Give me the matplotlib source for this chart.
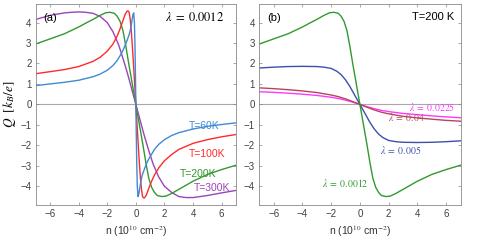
import numpy as np
import matplotlib
matplotlib.use('Agg')
import matplotlib.pyplot as plt

plt.rcParams['font.family'] = ['Liberation Sans', 'DejaVu Sans']
plt.rcParams['mathtext.fontset'] = 'stix'

# panel (a): lambda = 0.0012, different temperatures
n_60 = [-7, -6, -5, -4, -3, -2.5, -2, -1.6, -1.3, -1.0, -0.8, -0.6, -0.45, -0.35, -0.27, -0.2,
        -0.15, -0.1, -0.06, -0.03, 0, 0.03, 0.06, 0.1, 0.15, 0.2, 0.27, 0.35, 0.45, 0.6, 0.8,
        1.0, 1.3, 1.6, 2, 2.5, 3, 4, 5, 6, 7]
q_60 = [0.92, 1.0, 1.08, 1.18, 1.35, 1.48, 1.67, 1.9, 2.15, 2.5, 2.8, 3.15, 3.45, 3.75, 4.1, 4.4,
        4.47, 4.0, 2.8, 1.5, 0, -1.5, -2.8, -4.0, -4.5, -4.4, -4.1, -3.75, -3.45, -3.15, -2.8,
        -2.55, -2.2, -1.95, -1.72, -1.52, -1.38, -1.2, -1.07, -0.98, -0.9]

n_100 = [-7, -6, -5, -4, -3, -2.5, -2, -1.6, -1.3, -1.1, -0.9, -0.75, -0.62, -0.55, -0.47, -0.4,
         -0.32, -0.24, -0.16, -0.08, 0, 0.08, 0.16, 0.24, 0.32, 0.4, 0.47, 0.55, 0.62, 0.75, 0.9,
         1.1, 1.3, 1.6, 2, 2.5, 3, 4, 5, 6, 7]
q_100 = [1.5, 1.6, 1.7, 1.85, 2.1, 2.3, 2.6, 2.95, 3.35, 3.7, 4.1, 4.4, 4.55, 4.57, 4.5, 4.2,
         3.6, 2.8, 1.9, 0.95, 0, -0.95, -1.9, -2.8, -3.6, -4.2, -4.5, -4.57, -4.55, -4.4, -4.1,
         -3.75, -3.45, -3.1, -2.75, -2.45, -2.2, -1.9, -1.72, -1.58, -1.47]

n_200 = [-7, -6, -5, -4, -3.5, -3, -2.5, -2.1, -1.8, -1.5, -1.3, -1.1, -0.9, -0.7, -0.5, -0.3,
         -0.15, 0, 0.15, 0.3, 0.5, 0.7, 0.9, 1.1, 1.3, 1.5, 1.8, 2.1, 2.5, 3, 3.5, 4, 5, 6, 7]
q_200 = [2.95, 3.2, 3.45, 3.78, 3.97, 4.15, 4.35, 4.48, 4.5, 4.45, 4.3, 4.05, 3.6, 2.85, 2.0, 1.2,
         0.6, 0, -0.6, -1.2, -2.0, -2.85, -3.6, -4.05, -4.3, -4.45, -4.5, -4.48, -4.35, -4.15,
         -3.95, -3.75, -3.42, -3.18, -2.97]

n_300 = [-7, -6, -5, -4.5, -4, -3.5, -3, -2.5, -2, -1.6, -1.2, -0.9, -0.6, -0.3, 0, 0.3, 0.6,
         0.9, 1.2, 1.6, 2, 2.5, 3, 3.5, 4, 4.5, 5, 6, 7]
q_300 = [4.15, 4.35, 4.47, 4.5, 4.52, 4.5, 4.45, 4.3, 4.0, 3.55, 2.9, 2.25, 1.55, 0.78, 0, -0.78,
         -1.55, -2.25, -2.9, -3.55, -4.0, -4.3, -4.5, -4.55, -4.55, -4.5, -4.45, -4.32, -4.2]

# panel (b): T = 200 K, different lambda
n_005 = [-7, -6, -5, -4, -3, -2.5, -2, -1.6, -1.3, -1.0, -0.7, -0.4, -0.2, 0, 0.2, 0.4, 0.7,
         1.0, 1.3, 1.6, 2, 2.5, 3, 4, 5, 6, 7]
q_005 = [1.78, 1.82, 1.85, 1.86, 1.85, 1.82, 1.76, 1.62, 1.45, 1.2, 0.88, 0.5, 0.25, 0, -0.25,
         -0.5, -0.88, -1.2, -1.45, -1.62, -1.76, -1.82, -1.85, -1.86, -1.85, -1.82, -1.78]

n_lam = [-7, -6, -5, -4, -3, -2, -1.5, -1, -0.5, 0, 0.5, 1, 1.5, 2, 3, 4, 5, 6, 7]
q_04 = [0.81, 0.77, 0.72, 0.66, 0.58, 0.46, 0.38, 0.27, 0.14, 0, -0.14, -0.27, -0.38, -0.46,
        -0.58, -0.66, -0.72, -0.78, -0.82]
q_0225 = [0.62, 0.59, 0.55, 0.5, 0.44, 0.35, 0.29, 0.21, 0.11, 0, -0.11, -0.21, -0.29, -0.35,
          -0.44, -0.5, -0.56, -0.61, -0.65]

c_blue = '#3f8ad6'
c_red = '#ff2a2a'
c_green = '#2f9a2f'
c_purple = '#9a45b5'
c_dblue = '#3c4fae'
c_brown = '#b4465c'
c_mag = '#ff38ff'

fig = plt.figure(figsize=(4.91, 2.42), dpi=100)
ax = fig.add_axes([0.0727, 0.154, 0.408, 0.829])
bx = fig.add_axes([0.528, 0.154, 0.410, 0.829])

for a in (ax, bx):
    a.axhline(0, color='#a8a8a8', lw=0.8, zorder=1)
    a.set_xlim(-7, 7)
    a.set_ylim(-4.9, 4.9)
    a.set_xticks([-6, -4, -2, 0, 2, 4, 6])
    a.set_yticks([-4, -3, -2, -1, 0, 1, 2, 3, 4])
    a.tick_params(direction='in', top=True, right=True, length=2.5, width=0.5,
                  color='#888888', labelcolor='#404040', labelsize=7, pad=3)
    for s in a.spines.values():
        s.set_color('#8a8a8a')
        s.set_linewidth(0.6)
    a.set_xlabel('n (10$^{10}$ cm$^{-2}$)', fontsize=7.5, color='#333333', labelpad=3)

lw = 1.0
ax.plot(n_300, q_300, color=c_purple, lw=lw)
ax.plot(n_200, q_200, color=c_green, lw=lw)
ax.plot(n_100, q_100, color=c_red, lw=lw)
ax.plot(n_60, q_60, color=c_blue, lw=lw)

ax.text(0.04, 0.93, '(a)', transform=ax.transAxes, fontsize=8, va='center', ha='left')
ax.text(0.94, 0.935, r'$\lambda\;=\;0.0012$', transform=ax.transAxes, fontsize=9,
        va='center', ha='right')
ax.text(4.76, -1.06, 'T=60K', color=c_blue, fontsize=7.5, ha='center', va='center')
ax.text(5.0, -2.42, 'T=100K', color=c_red, fontsize=7.5, ha='center', va='center')
ax.text(4.37, -3.4, 'T=200K', color=c_green, fontsize=7.5, ha='center', va='center')
ax.text(5.35, -4.07, 'T=300K', color=c_purple, fontsize=7.5, ha='center', va='center')
ax.set_ylabel(r'$Q\ \ [k_B/e]$', fontsize=9.5, labelpad=2)

bx.plot(n_lam, q_0225, color=c_mag, lw=lw)
bx.plot(n_lam, q_04, color=c_brown, lw=lw)
bx.plot(n_005, q_005, color=c_dblue, lw=lw)
bx.plot(n_200, q_200, color=c_green, lw=lw)

bx.text(0.04, 0.93, '(b)', transform=bx.transAxes, fontsize=8, va='center', ha='left')
bx.text(0.97, 0.935, 'T=200 K', transform=bx.transAxes, fontsize=8, va='center', ha='right')
lfs = 7
bx.text(5.0, -0.13, r'$\lambda\;=\;0.0225$', color=c_mag, fontsize=lfs, ha='center', va='center')
bx.text(3.26, -0.62, r'$\lambda\;=\;0.04$', color=c_brown, fontsize=lfs, ha='center', va='center')
bx.text(2.85, -2.23, r'$\lambda\;=\;0.005$', color=c_dblue, fontsize=lfs, ha='center', va='center')
bx.text(-1.05, -3.85, r'$\lambda\;=\;0.0012$', color=c_green, fontsize=lfs, ha='center', va='center')

fig.savefig('out.png', dpi=100)
